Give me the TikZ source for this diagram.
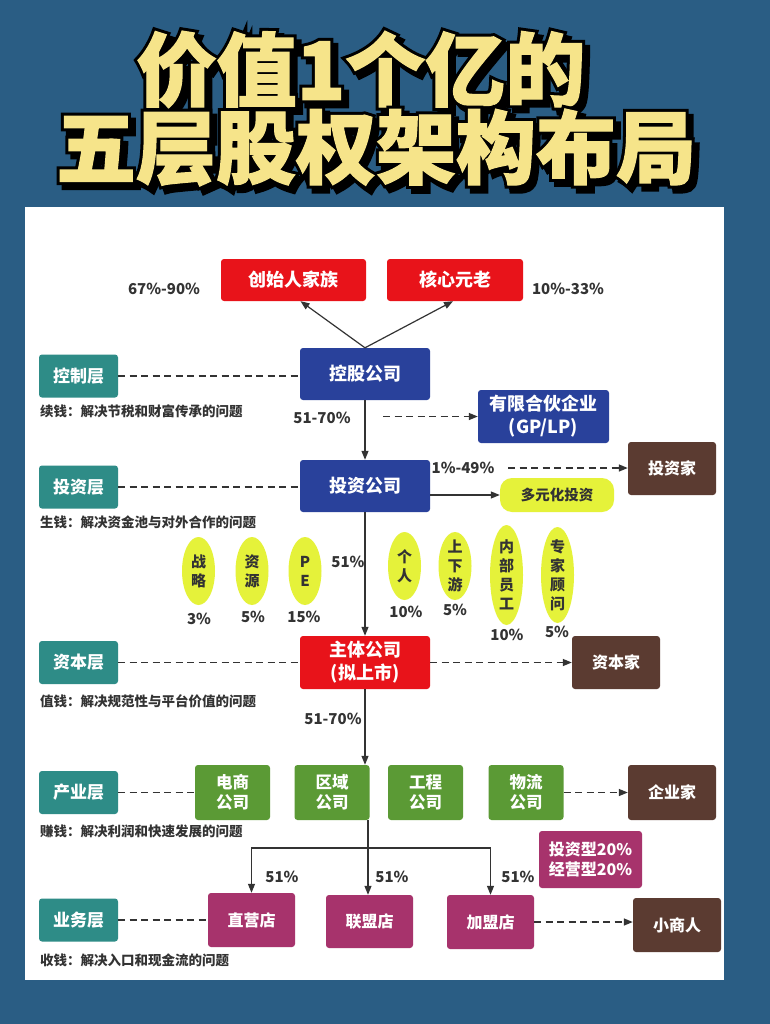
\documentclass[tikz,border=0pt]{standalone}
\usepackage{fontspec}
\setmainfont{Noto Sans CJK SC}
\newfontfamily\titlefont{Noto Sans CJK SC}[BoldFeatures={FakeBold=1.5}]
\newfontfamily\titleout{Noto Sans CJK SC}[BoldFeatures={FakeBold=9}]
\usetikzlibrary{shapes.geometric,arrows.meta,calc}
\definecolor{bgblue}{HTML}{2A5D84}
\definecolor{tyel}{HTML}{F6E48A}
\definecolor{cred}{HTML}{E8131A}
\definecolor{cblue}{HTML}{29419B}
\definecolor{cteal}{HTML}{2E8C87}
\definecolor{cbrown}{HTML}{5B3B31}
\definecolor{cgreen}{HTML}{5B9A35}
\definecolor{cmag}{HTML}{A7336C}
\definecolor{cyel}{HTML}{E5F23A}
\definecolor{tdark}{HTML}{333333}
\newcommand\outlinedtitle[1]{%
  {\titleout\bfseries\color{black}%
   \rlap{\hspace{5pt}\raisebox{-5pt}{#1}}\rlap{#1}}%
  {\titlefont\bfseries\color{tyel}#1}}
\tikzset{
  box/.style={rounded corners=3pt, inner sep=0pt, align=center, text=white,
    font=\bfseries\fontsize{18}{23}\selectfont},
  layer/.style={box, fill=cteal, minimum width=79pt, minimum height=43pt,
    font=\bfseries\fontsize{17}{20}\selectfont},
  brbox/.style={box, fill=cbrown, minimum width=88pt, minimum height=54pt,
    font=\bfseries\fontsize{16}{20}\selectfont},
  gbox/.style={box, fill=cgreen, minimum width=75pt, minimum height=55pt,
    font=\bfseries\fontsize{16.5}{20}\selectfont},
  mbox/.style={box, fill=cmag, minimum width=87pt, minimum height=54pt,
    font=\bfseries\fontsize{16}{20}\selectfont},
  desc/.style={anchor=west, inner sep=0pt, text=tdark, font=\bfseries\fontsize{13.5}{15}\selectfont},
  pct/.style={inner sep=0pt, text=tdark, font=\bfseries\fontsize{15}{17}\selectfont},
  ell/.style={ellipse, fill=cyel, inner sep=0pt, minimum width=33pt},
  etext/.style={inner sep=0pt, align=center, text=tdark, font=\bfseries\fontsize{15}{19}\selectfont},
  arr/.style={draw=tdark, line width=1.2pt, -{Triangle[length=9pt,width=7pt]}},
  darr/.style={draw=tdark, line width=1.4pt, dash pattern=on 7pt off 4.5pt, -{Triangle[length=9pt,width=7pt]}},
  dl/.style={draw=tdark, line width=1.4pt, dash pattern=on 7pt off 4.5pt},
  ttl/.style={inner sep=0pt, font=\fontsize{80}{80}\selectfont}
}
\begin{document}
\begin{tikzpicture}[x=1pt,y=-1pt]
\useasboundingbox (0,0) rectangle (770,1024);
\fill[bgblue] (0,0) rectangle (770,1024);
\fill[white] (25,207) rectangle (724,980);
% title
\node[ttl] (title1) at (361,72) {\outlinedtitle{价值1个亿的}};
\node[ttl] (title2) at (376,150) {\outlinedtitle{五层股权架构布局}};
% top owners
\node[box, fill=cred, minimum width=145pt, minimum height=42pt] (cs) at (293.5,280) {创始人家族};
\node[box, fill=cred, minimum width=136pt, minimum height=42pt] (hx) at (455,280) {核心元老};
\node[pct] (p1) at (164,289) {67\%-90\%};
\node[pct] (p2) at (568,289) {10\%-33\%};
% control layer
\node[box, fill=cblue, minimum width=130pt, minimum height=52pt] (kg) at (365,374) {控股公司};
\node[layer] (L1) at (78.5,376) {控制层};
\node[desc] (d1) at (40,411) {续钱：解决节税和财富传承的问题};
\node[pct] (p3) at (322,418) {51-70\%};
\node[box, fill=cblue, minimum width=131pt, minimum height=53pt] (gp) at (543.5,416.5) {有限合伙企业\\(GP/LP)};
\coordinate (gps) at (383,416.5);
% investment layer
\node[box, fill=cblue, minimum width=130pt, minimum height=52pt] (tz) at (365,486) {投资公司};
\node[layer] (L2) at (78.5,487) {投资层};
\node[desc] (d2) at (40,522) {生钱：解决资金池与对外合作的问题};
\node[pct] (p4) at (463,468) {1\%-49\%};
\coordinate (p4s) at (508,468);
\node[brbox, minimum height=53pt] (tzj) at (672,468.5) {投资家};
\node[box, fill=cyel, rounded corners=12pt, minimum width=114pt, minimum height=34pt, text=tdark,
  font=\bfseries\fontsize{14.5}{16}\selectfont] (dy) at (557,495) {多元化投资};
% ellipses
\node[ell, minimum height=68pt] (e1) at (198.5,571) {};
\node[etext] (t1) at (e1) {战\\略};
\node[pct] (q1) at (199,619) {3\%};
\node[ell, minimum height=68pt] (e2) at (252,571) {};
\node[etext] (t2) at (e2) {资\\源};
\node[pct] (q2) at (253,617) {5\%};
\node[ell, minimum height=68pt] (e3) at (305,571) {};
\node[etext] (t3) at (e3) {P\\E};
\node[pct] (q3) at (304,617) {15\%};
\node[pct] (q0) at (348,562) {51\%};
\node[ell, minimum height=68pt] (e4) at (404.5,566) {};
\node[etext] (t4) at (e4) {个\\人};
\node[pct] (q4) at (406,612) {10\%};
\node[ell, minimum height=68pt] (e5) at (455,566) {};
\node[etext] (t5) at (e5) {上\\下\\游};
\node[pct] (q5) at (455,610) {5\%};
\node[ell, minimum height=100pt] (e6) at (506.5,575) {};
\node[etext] (t6) at (e6) {内\\部\\员\\工};
\node[pct] (q6) at (507,635) {10\%};
\node[ell, minimum height=96pt] (e7) at (557.5,575) {};
\node[etext] (t7) at (e7) {专\\家\\顾\\问};
\node[pct] (q7) at (557,632) {5\%};
% capital layer
\node[box, fill=cred, minimum width=130pt, minimum height=53pt] (zt) at (365,662.5) {主体公司\\(拟上市)};
\node[layer] (L3) at (78.5,662.5) {资本层};
\node[desc] (d3) at (40,701) {值钱：解决规范性与平台价值的问题};
\node[brbox, minimum height=53pt] (zbj) at (616,662.5) {资本家};
\node[pct] (p5) at (333,719) {51-70\%};
% industry layer
\node[gbox] (ds) at (232.5,792.5) {电商\\公司};
\node[gbox] (qy) at (332,792.5) {区域\\公司};
\node[gbox] (gc) at (425.5,792.5) {工程\\公司};
\node[gbox] (wl) at (526,792.5) {物流\\公司};
\node[brbox, minimum height=55pt] (qyj) at (672,792.5) {企业家};
\node[layer] (L4) at (78.5,792.5) {产业层};
\node[desc] (d4) at (40,831) {赚钱：解决利润和快速发展的问题};
% business layer
\node[mbox] (zy) at (251.5,920) {直营店};
\node[mbox, minimum height=53pt] (lm) at (369.5,921.5) {联盟店};
\node[mbox] (jm) at (490.5,922) {加盟店};
\node[box, fill=cmag, minimum width=103pt, minimum height=57pt,
  font=\bfseries\fontsize{16}{20}\selectfont] (tzx) at (590.5,859.5) {投资型20\%\\经营型20\%};
\node[brbox] (xsr) at (677,925) {小商人};
\node[layer] (L5) at (78.5,920) {业务层};
\node[desc] (d5) at (40,960) {收钱：解决入口和现金流的问题};
\node[pct] (r1) at (282,877) {51\%};
\node[pct] (r2) at (392,877) {51\%};
\node[pct] (r3) at (518,877) {51\%};
% connectors
\draw[arr] (kg.north) -- ([xshift=7pt]cs.south);
\draw[arr] (kg.north) -- ([xshift=-2pt]hx.south);
\draw[dl] (L1.east) -- (L1.east -| kg.west);
\draw[arr] (kg.south) -- (tz.north);
\draw[darr] (gps) -- (gp.west);
\draw[dl] (L2.east) -- (L2.east -| tz.west);
\draw[darr] (p4s) -- (p4s -| tzj.west);
\draw[arr] (tz.east |- dy.west) -- (dy.west);
\draw[arr] (tz.south) -- (zt.north);
\draw[dl] (L3.east) -- (L3.east -| zt.west);
\draw[darr] (zt.east) -- (zt.east -| zbj.west);
\draw[arr] (zt.south) -- (zt.south |- qy.north);
\draw[dl] (L4.east) -- (ds.west);
\draw[darr] (wl.east) -- (wl.east -| qyj.west);
\coordinate (br) at (368,848);
\draw[arr] (qy.south -| br) -- (lm.north -| br);
\draw[arr] (br) -| (zy.north);
\draw[arr] (br) -| (jm.north);
\draw[dl] (L5.east) -- (L5.east -| zy.west);
\draw[darr] (jm.east) -- (jm.east -| xsr.west);
\end{tikzpicture}
\end{document}
